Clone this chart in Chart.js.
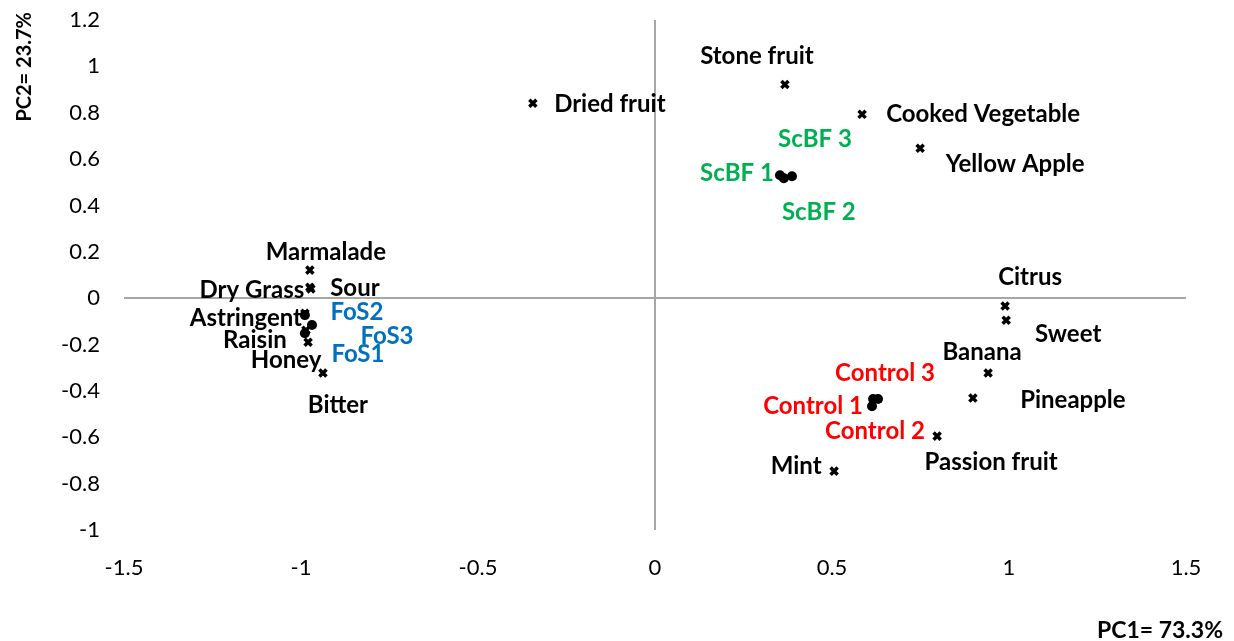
<!DOCTYPE html>
<html>
<head>
<meta charset="utf-8">
<script src="https://cdn.jsdelivr.net/npm/chart.js@4.4.1/dist/chart.umd.min.js"></script>
<style>
  html, body { margin: 0; padding: 0; background: #fff; }
  #wrap { width: 1234px; height: 641px; }
</style>
</head>
<body>
<div id="wrap"><canvas id="pcaChart" width="1234" height="641"></canvas></div>
<script>
// Sensory attributes (loadings)
const attrNames = ['Stone fruit', 'Dried fruit', 'Cooked Vegetable', 'Yellow Apple', 'Citrus', 'Sweet',
    'Banana', 'Pineapple', 'Passion fruit', 'Mint', 'Marmalade', 'Dry Grass', 'Sour',
    'Astringent', 'Raisin', 'Honey', 'Bitter'];
const attrX = [0.367, -0.345, 0.585, 0.749, 0.989, 0.992, 0.941, 0.898, 0.797, 0.506,
    -0.975, -0.975, -0.972, -0.989, -0.986, -0.980, -0.938];
const attrY = [0.922, 0.841, 0.793, 0.647, -0.034, -0.095, -0.323, -0.431, -0.595, -0.746,
    0.121, 0.047, 0.040, -0.065, -0.138, -0.190, -0.323];

// Samples (scores)
const sampleNames = ['ScBF 1', 'ScBF 2', 'ScBF 3', 'Control 1', 'Control 2', 'Control 3', 'FoS2', 'FoS3', 'FoS1'];
const sampleX = [0.353, 0.364, 0.387, 0.616, 0.613, 0.630, -0.989, -0.969, -0.989];
const sampleY = [0.530, 0.517, 0.526, -0.435, -0.466, -0.435, -0.073, -0.116, -0.151];

// tick labels
const xTicks = [-1.5, -1, -0.5, 0, 0.5, 1, 1.5];
const yTicks = [-1, -0.8, -0.6, -0.4, -0.2, 0, 0.2, 0.4, 0.6, 0.8, 1, 1.2];

// label placement (pixel offsets of text centre from the point)
const attrLabelOffsets = [[-28, -28], [77, 1], [121, 0], [95, 16], [25, -29], [62, 14],
    [-6, -21], [100, 2], [54, 26], [-38, -5], [16, -18], [-58, 3], [44, -1],
    [-59, 5], [-51, 10], [-22, 18], [15, 32]];
const sampleLabelOffsets = [[-43, -2], [35, 34], [23, -37], [-60, 7], [3, 25], [7, -26], [52, -3], [75, 11], [53, 21]];
const sampleColors = ['#00B050', '#00B050', '#00B050', '#FF0000', '#FF0000', '#FF0000', '#0070C0', '#0070C0', '#0070C0'];

const FONT = 'Lato, "Open Sans", sans-serif';

const labelPlugin = {
    id: 'pointLabels',
    afterDatasetsDraw(chart) {
        const ctx = chart.ctx;
        ctx.save();
        ctx.font = 'bold 24px ' + FONT;
        ctx.textAlign = 'center';
        ctx.textBaseline = 'middle';
        chart.getDatasetMeta(0).data.forEach(function(pt, i) {
            ctx.fillStyle = '#000';
            ctx.fillText(attrNames[i], pt.x + attrLabelOffsets[i][0], pt.y + attrLabelOffsets[i][1]);
        });
        chart.getDatasetMeta(1).data.forEach(function(pt, i) {
            ctx.fillStyle = sampleColors[i];
            ctx.fillText(sampleNames[i], pt.x + sampleLabelOffsets[i][0], pt.y + sampleLabelOffsets[i][1]);
        });

        // axis titles
        ctx.fillStyle = '#000';
        ctx.font = 'bold 23px ' + FONT;
        ctx.textAlign = 'right';
        ctx.fillText('PC1= 73.3%', 1223, 631);
        ctx.font = 'bold 20px ' + FONT;
        ctx.translate(25, 12);
        ctx.rotate(-Math.PI / 2);
        ctx.textAlign = 'right';
        ctx.fillText('PC2= 23.7%', 0, 0);
        ctx.restore();
    }
};

const zeroLine = function(c) { return c.tick && c.tick.value === 0 ? '#a6a6a6' : 'rgba(0,0,0,0)'; };

const ctx = document.getElementById('pcaChart').getContext('2d');
const pcaChart = new Chart(ctx, {
    type: 'scatter',
    data: {
        datasets: [
            {
                label: 'Attributes',
                data: attrX.map(function(x, i) { return { x: x, y: attrY[i] }; }),
                pointStyle: 'crossRot',
                pointRadius: 5,
                borderWidth: 3.5,
                borderColor: '#000',
                backgroundColor: '#000'
            },
            {
                label: 'Samples',
                data: sampleX.map(function(x, i) { return { x: x, y: sampleY[i] }; }),
                pointStyle: 'circle',
                pointRadius: 5,
                borderWidth: 0,
                borderColor: '#000',
                backgroundColor: '#000'
            }
        ]
    },
    options: {
        responsive: false,
        animation: false,
        layout: { padding: { left: 0, top: 20, right: 48, bottom: 0 } },
        scales: {
            x: {
                min: -1.5,
                max: 1.5,
                afterBuildTicks: function(s) { s.ticks = xTicks.map(function(v) { return { value: v }; }); },
                afterFit: function(s) { s.height = 111; s.paddingRight = 0; },
                ticks: { padding: 25, color: '#000', font: { family: FONT, size: 22 }, maxRotation: 0,
                    callback: function(v) { return String(v); } },
                grid: { color: zeroLine, lineWidth: 2, drawTicks: false },
                border: { display: false }
            },
            y: {
                min: -1,
                max: 1.2,
                afterBuildTicks: function(s) { s.ticks = yTicks.map(function(v) { return { value: v }; }); },
                afterFit: function(s) { s.width = 124; s.paddingTop = 0; s.paddingBottom = 0; },
                ticks: { padding: 24, color: '#000', font: { family: FONT, size: 22 },
                    callback: function(v) { return String(v); } },
                grid: { color: zeroLine, lineWidth: 2, drawTicks: false },
                border: { display: false }
            }
        },
        plugins: {
            legend: { display: false },
            tooltip: { enabled: false }
        }
    },
    plugins: [labelPlugin]
});
</script>
</body>
</html>
